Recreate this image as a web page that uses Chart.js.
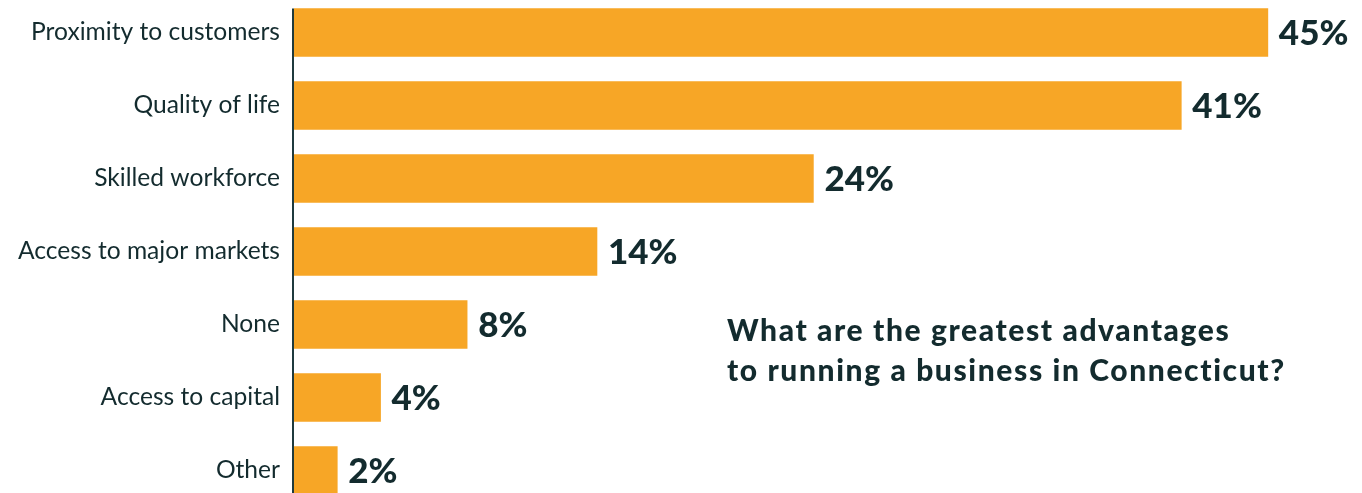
<!DOCTYPE html>
<html>
<head>
<meta charset="utf-8">
<script src="https://cdn.jsdelivr.net/npm/chart.js@4"></script>
<style>
  html, body { margin: 0; padding: 0; background: #fff; overflow: hidden; }
  #wrap { position: absolute; left: 0; top: -4px; width: 1362px; height: 511px; }
  #note {
    position: absolute; left: 727px; top: 309px;
    font-family: Lato, sans-serif; font-weight: 900; font-size: 30px;
    line-height: 40px; color: #132b2e; letter-spacing: 1.6px; white-space: nowrap;
  }
</style>
</head>
<body>
<div id="wrap"><canvas id="chart"></canvas></div>
<div id="note">What are the greatest advantages<br>to running a business in Connecticut?</div>
<script>
// survey answers, top to bottom
const categories = [
  'Proximity to customers',
  'Quality of life',
  'Skilled workforce',
  'Access to major markets',
  'None',
  'Access to capital',
  'Other'
];
const shares = [45, 41, 24, 14, 8, 4, 2];

const ink = '#132b2e';
const orange = '#f7a626';

// value label at the end of each bar
const valueLabels = {
  id: 'valueLabels',
  afterDatasetsDraw(chart) {
    const ctx = chart.ctx;
    const meta = chart.getDatasetMeta(0);
    ctx.save();
    ctx.font = '900 35px Lato';
    ctx.fillStyle = ink;
    ctx.textAlign = 'left';
    ctx.textBaseline = 'middle';
    meta.data.forEach((bar, i) => {
      ctx.fillText(shares[i] + '%', bar.x + 11, bar.y + 1);
    });
    ctx.restore();
  }
};

// left axis line starts at the top of the first bar
const axisLine = {
  id: 'axisLine',
  afterDatasetsDraw(chart) {
    const ctx = chart.ctx;
    const first = chart.getDatasetMeta(0).data[0];
    const x = chart.chartArea.left - 1;
    ctx.save();
    ctx.strokeStyle = '#1f3a3d';
    ctx.lineWidth = 2;
    ctx.beginPath();
    ctx.moveTo(x, first.y - first.height / 2);
    ctx.lineTo(x, chart.chartArea.bottom);
    ctx.stroke();
    ctx.restore();
  }
};

new Chart(document.getElementById('chart'), {
  type: 'bar',
  data: {
    labels: categories,
    datasets: [{
      data: shares,
      backgroundColor: orange,
      borderWidth: 0,
      barThickness: 48
    }]
  },
  options: {
    indexAxis: 'y',
    responsive: true,
    maintainAspectRatio: false,
    animation: false,
    layout: { padding: 0 },
    plugins: {
      legend: { display: false },
      tooltip: { enabled: false }
    },
    scales: {
      x: {
        display: false,
        min: 0,
        max: 49.35
      },
      y: {
        grid: { display: false, drawTicks: false },
        border: { display: false },
        afterFit(scale) {
          scale.width = 294;
          scale.paddingTop = 0;
          scale.paddingBottom = 0;
        },
        ticks: {
          color: ink,
          padding: 14,
          font: { family: 'Lato', size: 24.6 }
        }
      }
    }
  },
  plugins: [valueLabels, axisLine]
});
</script>
</body>
</html>
